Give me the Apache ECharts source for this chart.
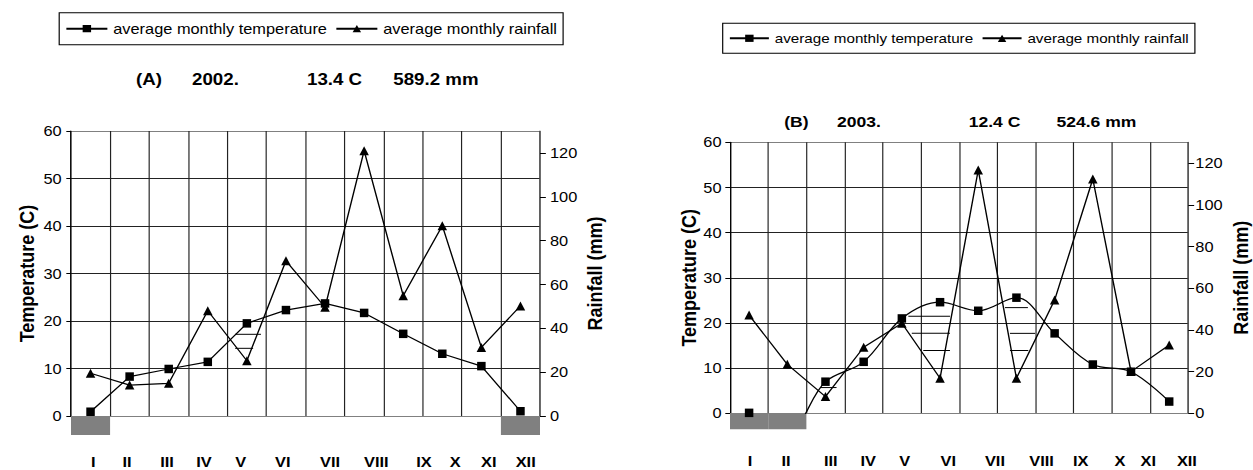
<!DOCTYPE html>
<html>
<head>
<meta charset="utf-8">
<title>Average monthly temperature and rainfall 2002 / 2003</title>
<script src="https://cdn.jsdelivr.net/npm/echarts@6/dist/echarts.min.js"></script>
<style>
  html, body { margin: 0; padding: 0; background: #fff; overflow: hidden; }
  /* the source picture is stretched sideways, so the whole chart is too */
  #chart { width: 1071px; height: 470px; transform: scaleX(1.17); transform-origin: 0 0; }
</style>
</head>
<body>
<div id="chart"></div>
<script>
// ---- data ----
var months = ['I', 'II', 'III', 'IV', 'V', 'VI', 'VII', 'VIII', 'IX', 'X', 'XI', 'XII'];
var seriesNames = ['average monthly temperature', 'average monthly rainfall'];

var tempA = [0.9, 8.3, 9.9, 11.4, 19.5, 22.3, 23.7, 21.7, 17.3, 13.1, 10.5, 1.0];
var rainA = [19.5, 14.1, 14.9, 48.0, 25.2, 70.8, 49.6, 121.0, 54.9, 86.8, 31.3, 50.2];
var frostA = [1, 0, 0, 0, 0, 0, 0, 0, 0, 0, 0, 1];
var titleA = ['(A)', '2002.', '13.4 C', '589.2 mm'];

var tempB = [0.1, -4.0, 7.0, 11.4, 21.0, 24.6, 22.7, 25.6, 17.7, 10.8, 9.2, 2.6];
var rainB = [47.1, 23.5, 8.0, 31.7, 43.2, 16.8, 116.7, 16.8, 54.3, 112.4, 20.0, 32.8];
var frostB = [1, 1, 0, 0, 0, 0, 0, 0, 0, 0, 0, 0];
var titleB = ['(B)', '2003.', '12.4 C', '524.6 mm'];

// dry-period hatching: [from month, to month, temperature level]
var hatchA = [[4.20, 4.86, 17.2], [4.20, 4.66, 14.25]];
var hatchB = [[4.67, 5.76, 21.5], [4.76, 5.76, 17.7], [5.06, 5.76, 13.9],
              [7.20, 7.80, 23.4], [7.33, 7.99, 17.7], [7.33, 7.81, 13.9],
              [2.36, 2.79, 5.7]];

var tempTicks = [0, 10, 20, 30, 40, 50, 60];
var rainTicks = [0, 20, 40, 60, 80, 100, 120];

// ---- layout (measured in picture pixels, x divided by the stretch) ----
var SX = 1.17;
function sx(v) { return v / SX; }
var FONT = "'Liberation Sans', Arial, sans-serif";

var panels = [
  {temp: tempA, rain: rainA, frost: frostA, hatch: hatchA, title: titleA, smooth: false,
   l: 71, r: 540, t: 131, b: 416, frostH: 19, monthMargin: 20,
   leftGap: 33.6, rightGap: 44.2, leftMargin: 9.4, rightMargin: 10,
   shift: [2.8, -2.6, -1.7, -3.8, -6.1, -3.2, 5, 12.2, 20.8, 13, 7.4, 5.2],
   titleX: [136, 192, 307, 393.3], titleY: 79, titleSize: 16,
   legendX: 59.2, legendY: 12.7, legendSize: 14, legendPad: 8, iconW: 41},
  {temp: tempB, rain: rainB, frost: frostB, hatch: hatchB, title: titleB, smooth: 0.35,
   l: 730, r: 1188.3, t: 142.3, b: 413.3, frostH: 16, monthMargin: 25,
   leftGap: 31.4, rightGap: 41.4, leftMargin: 8.5, rightMargin: 7,
   shift: [0.9, -1.3, 5.3, 4.6, 2.8, 8.2, 16.7, 25.2, 26.1, 27.1, 17.2, 17.7],
   titleX: [784.2, 836.9, 968.7, 1056.4], titleY: 121.7, titleSize: 15,
   legendX: 722.7, legendY: 23.3, legendSize: 13, legendPad: 7.5, iconW: 39}
];

function hatchItem(params, api) {
  var a = api.coord([api.value(0), api.value(2)]);
  var b = api.coord([api.value(1), api.value(2)]);
  return {
    type: 'line',
    shape: {x1: a[0], y1: a[1], x2: b[0], y2: b[1]},
    style: {stroke: '#000', lineWidth: 1}
  };
}

var option = {
  animation: false,
  backgroundColor: '#fff',
  title: [], legend: [], grid: [], xAxis: [], yAxis: [], series: []
};

panels.forEach(function (p, k) {
  var g = 2 * k, y0 = 3 * k;

  p.title.forEach(function (txt, i) {
    option.title.push({
      text: txt, left: sx(p.titleX[i]), top: p.titleY - 10, padding: 0,
      textStyle: {fontFamily: FONT, fontSize: p.titleSize, fontWeight: 'bold',
                  color: '#000', lineHeight: 20}
    });
  });

  option.legend.push({
    data: seriesNames, left: sx(p.legendX), top: p.legendY,
    padding: [p.legendPad, sx(6)], itemGap: sx(8),
    itemWidth: sx(p.iconW), itemHeight: 9,
    borderColor: '#000', borderWidth: 1, selectedMode: false,
    textStyle: {fontFamily: FONT, fontSize: p.legendSize, color: '#000',
                lineHeight: p.legendSize + 2}
  });

  // plot area and the strip with the grey frost bars under it
  option.grid.push({left: sx(p.l), top: p.t, width: sx(p.r - p.l), height: p.b - p.t,
                    outerBoundsMode: 'none'});
  option.grid.push({left: sx(p.l), top: p.b, width: sx(p.r - p.l), height: p.frostH,
                    outerBoundsMode: 'none'});

  option.xAxis.push({
    gridIndex: g, type: 'value', min: 0, max: 12, interval: 1,
    axisLine: {show: true, lineStyle: {color: '#808080', width: 1.2}},
    axisTick: {show: false}, axisLabel: {show: false},
    splitLine: {show: true, lineStyle: {color: '#222', width: 1}}
  });

  var rich = {};
  p.shift.forEach(function (s, i) {
    var d = 2 * sx(s);
    rich['m' + i] = {fontFamily: FONT, fontSize: 14, fontWeight: 'bold', color: '#000',
                     padding: d >= 0 ? [0, 0, 0, d] : [0, -d, 0, 0]};
  });
  option.xAxis.push({
    gridIndex: g + 1, type: 'category', data: months, boundaryGap: true,
    axisLine: {show: false}, axisTick: {show: false}, splitLine: {show: false},
    axisLabel: {margin: p.monthMargin, interval: 0, rich: rich,
                formatter: function (v, i) { return '{m' + i + '|' + v + '}'; }}
  });

  option.yAxis.push({
    gridIndex: g, type: 'value', position: 'left', min: 0, max: 60, interval: 10,
    axisLine: {show: true, lineStyle: {color: '#000', width: 1}},
    axisTick: {show: true, length: 4, lineStyle: {color: '#000'}},
    axisLabel: {margin: sx(p.leftMargin), fontFamily: FONT, fontSize: 14, color: '#000',
                customValues: tempTicks},
    splitLine: {show: true, lineStyle: {color: ['#808080', '#222', '#222', '#222', '#222', '#222', '#808080']}},
    name: 'Temperature (C)', nameLocation: 'middle', nameRotate: 90, nameGap: sx(p.leftGap),
    nameTextStyle: {fontFamily: FONT, fontSize: 18, fontWeight: 'bold', color: '#000'}
  });
  option.yAxis.push({
    gridIndex: g, type: 'value', position: 'right', min: 0, max: 130, interval: 20,
    axisLine: {show: true, lineStyle: {color: '#555', width: 1}},
    axisTick: {show: true, length: 5, lineStyle: {color: '#000'}, customValues: rainTicks},
    axisLabel: {margin: sx(p.rightMargin), fontFamily: FONT, fontSize: 14, color: '#000',
                customValues: rainTicks},
    splitLine: {show: false},
    name: 'Rainfall (mm)', nameLocation: 'middle', nameRotate: 90, nameGap: sx(p.rightGap),
    nameTextStyle: {fontFamily: FONT, fontSize: 18, fontWeight: 'bold', color: '#000'}
  });
  option.yAxis.push({gridIndex: g + 1, type: 'value', min: 0, max: 1, show: false});

  option.series.push({
    type: 'custom', name: 'hatch', xAxisIndex: g, yAxisIndex: y0, silent: true,
    renderItem: hatchItem, encode: {x: [0, 1], y: 2}, data: p.hatch
  });
  option.series.push({
    type: 'line', name: seriesNames[1], xAxisIndex: g, yAxisIndex: y0 + 1,
    data: p.rain.map(function (v, i) { return [i + 0.5, v]; }),
    symbol: 'triangle', symbolSize: [sx(9.5), 9], showAllSymbol: true,
    lineStyle: {color: '#000', width: 1.2}, itemStyle: {color: '#000'}, z: 3
  });
  option.series.push({
    type: 'line', name: seriesNames[0], xAxisIndex: g, yAxisIndex: y0,
    data: p.temp.map(function (v, i) { return [i + 0.5, v]; }),
    symbol: 'rect', symbolSize: [sx(8.5), 8.5], showAllSymbol: true, smooth: p.smooth,
    lineStyle: {color: '#000', width: 1.2}, itemStyle: {color: '#000'}, z: 4
  });
  option.series.push({
    type: 'bar', name: 'frost', xAxisIndex: g + 1, yAxisIndex: y0 + 2, silent: true,
    data: p.frost, barWidth: '100%', itemStyle: {color: '#808080'}
  });
});

var chart = echarts.init(document.getElementById('chart'), null, {renderer: 'svg'});
chart.setOption(option);
</script>
</body>
</html>
